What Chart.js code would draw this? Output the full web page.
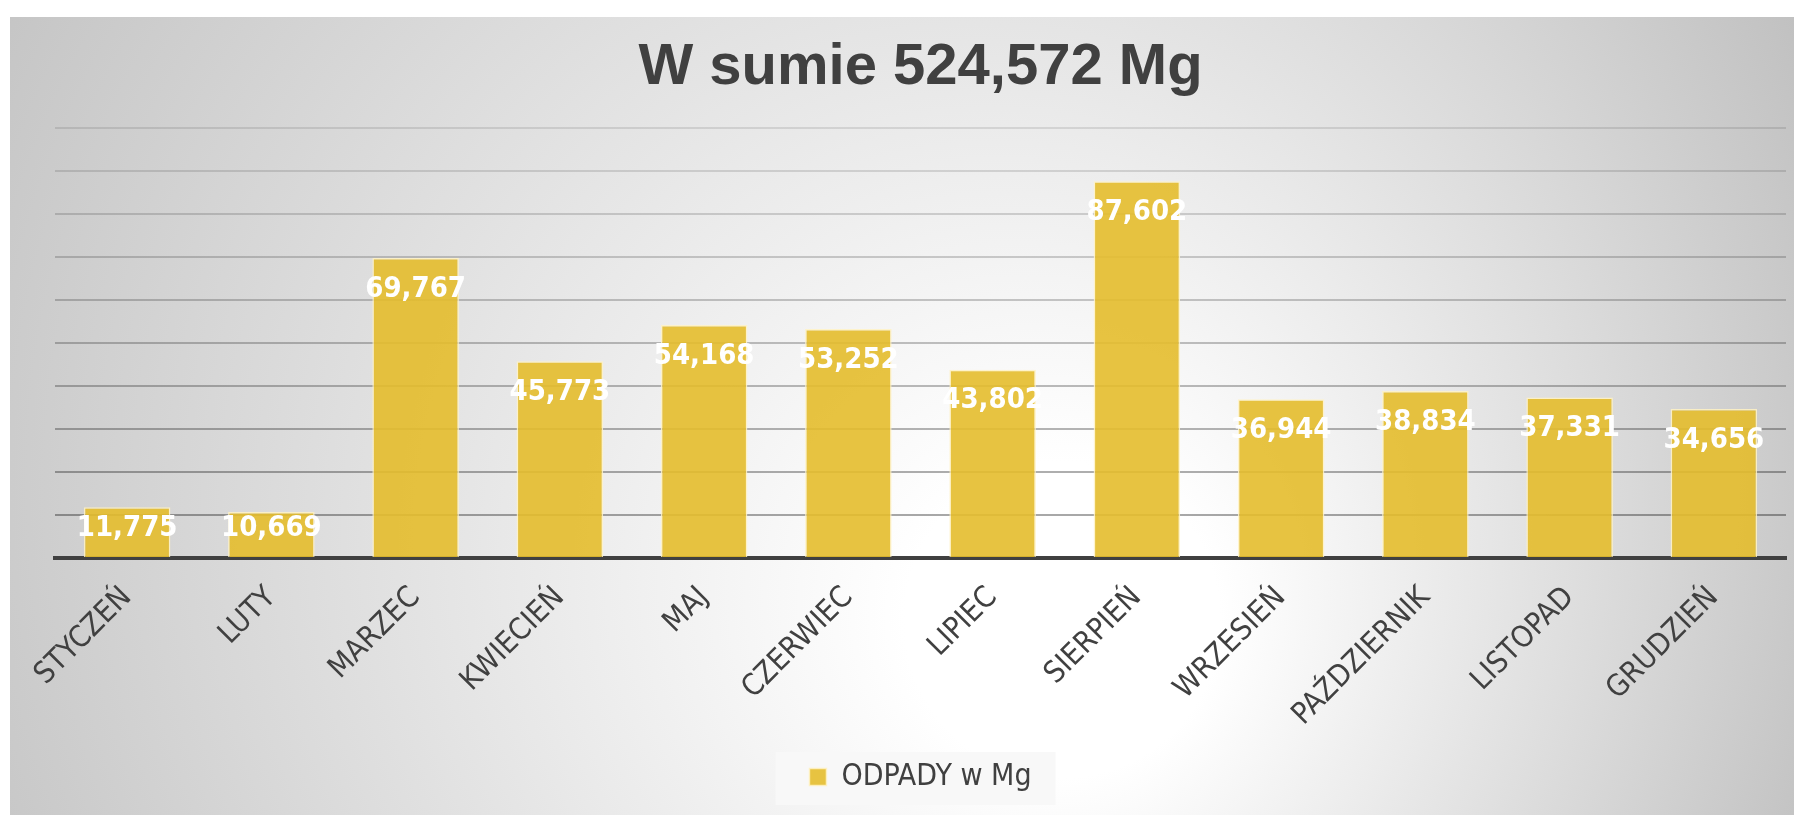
<!DOCTYPE html>
<html><head><meta charset="utf-8">
<script src="https://cdn.jsdelivr.net/npm/chart.js@4.4.0/dist/chart.umd.min.js"></script>
<style>
html,body{margin:0;padding:0;background:#fff;width:1794px;height:815px;overflow:hidden}
#c{position:absolute;left:0;top:0}
</style></head><body>
<canvas id="c" width="1794" height="815"></canvas>
<script>
const categories = ['STYCZEŃ','LUTY','MARZEC','KWIECIEŃ','MAJ','CZERWIEC','LIPIEC','SIERPIEŃ','WRZESIEŃ','PAŹDZIERNIK','LISTOPAD','GRUDZIEŃ'];
const odpady = [11.775,10.669,69.767,45.773,54.168,53.252,43.802,87.602,36.944,38.834,37.331,34.656];
const seriesName = 'ODPADY w Mg';
const titleText = 'W sumie 524,572 Mg';
const yMin = 0, yMax = 100, yStep = 10;

const fmt = v => v.toFixed(3).replace('.', ',');
const condFont = '"DejaVu Sans Condensed","DejaVu Sans",sans-serif';

const bgPlugin = {
  id: 'bg',
  beforeDraw(chart) {
    const ctx = chart.ctx;
    ctx.save();
    ctx.fillStyle = '#ffffff';
    ctx.fillRect(0, 0, chart.width, chart.height);
    const g = ctx.createRadialGradient(1100, 650, 0, 850, 450, 1050);
    g.addColorStop(0, '#ffffff');
    g.addColorStop(0.15, '#ffffff');
    g.addColorStop(1, '#c0c0c0');
    ctx.fillStyle = g;
    ctx.fillRect(10, 17, chart.width - 10, chart.height - 17);
    // legend background
    const lg = chart.legend;
    if (lg && lg.legendItems && lg.legendItems.length) {
      ctx.font = '30px ' + condFont;
      const tw = ctx.measureText(lg.legendItems[0].text).width;
      const itemW = 17 + 15 + tw;
      const x0 = (lg.left + lg.right - itemW) / 2;
      ctx.fillStyle = 'rgba(248,248,248,0.95)';
      ctx.fillRect(x0 - 34, lg.top, itemW + 58, 53);
    }
    ctx.restore();
  }
};

const labelPlugin = {
  id: 'vals',
  afterDatasetsDraw(chart) {
    const ctx = chart.ctx;
    const meta = chart.getDatasetMeta(0);
    ctx.save();
    ctx.font = 'bold 29px ' + condFont;
    ctx.fillStyle = '#ffffff';
    ctx.textAlign = 'center';
    ctx.textBaseline = 'middle';
    meta.data.forEach((el, i) => {
      const y = Math.min(el.y + 31, el.base - 29);
      ctx.fillText(fmt(odpady[i]), el.x, y);
    });
    ctx.restore();
  }
};

new Chart(document.getElementById('c'), {
  type: 'bar',
  data: {
    labels: categories,
    datasets: [{
      label: seriesName,
      data: odpady,
      backgroundColor: 'rgba(228,188,44,0.9)',
      borderColor: 'rgba(255,242,195,0.85)',
      borderWidth: 1.5,
      categoryPercentage: 1,
      barPercentage: 0.6
    }]
  },
  options: {
    responsive: false,
    animation: false,
    devicePixelRatio: 1,
    layout: { padding: { left: 55, right: 8, top: 17, bottom: 13 } },
    plugins: {
      title: {
        display: true, text: titleText, fullSize: false, color: '#404040',
        font: { family: '"Liberation Sans", Arial, sans-serif', size: 58, weight: 'bold', lineHeight: 1.2 },
        padding: { top: 16, bottom: 25.4 }
      },
      legend: {
        display: true, position: 'bottom', fullSize: false,
        labels: { color: '#404040', font: { family: condFont, size: 30 }, boxWidth: 17, boxHeight: 17, padding: 10 }
      },
      tooltip: { enabled: false }
    },
    scales: {
      x: {
        z: 1,
        grid: { display: false, drawTicks: false },
        border: { display: true, color: '#404040', width: 4 },
        ticks: { color: '#404040', font: { family: condFont, size: 30 }, minRotation: 45, maxRotation: 45, autoSkip: false, padding: 22 },
        afterFit(s) { s.height = 194; }
      },
      y: {
        min: yMin, max: yMax,
        ticks: { display: false, stepSize: yStep },
        border: { display: false },
        grid: {
          drawTicks: false, lineWidth: 2,
          color: c => { const v = c.tick ? c.tick.value : 0; const a = 0.1 + (yMax - v) / yMax * 0.27; return 'rgba(0,0,0,' + a.toFixed(3) + ')'; }
        },
        afterFit(s) { s.width = 0; }
      }
    }
  },
  plugins: [bgPlugin, labelPlugin]
});
</script>
</body></html>
